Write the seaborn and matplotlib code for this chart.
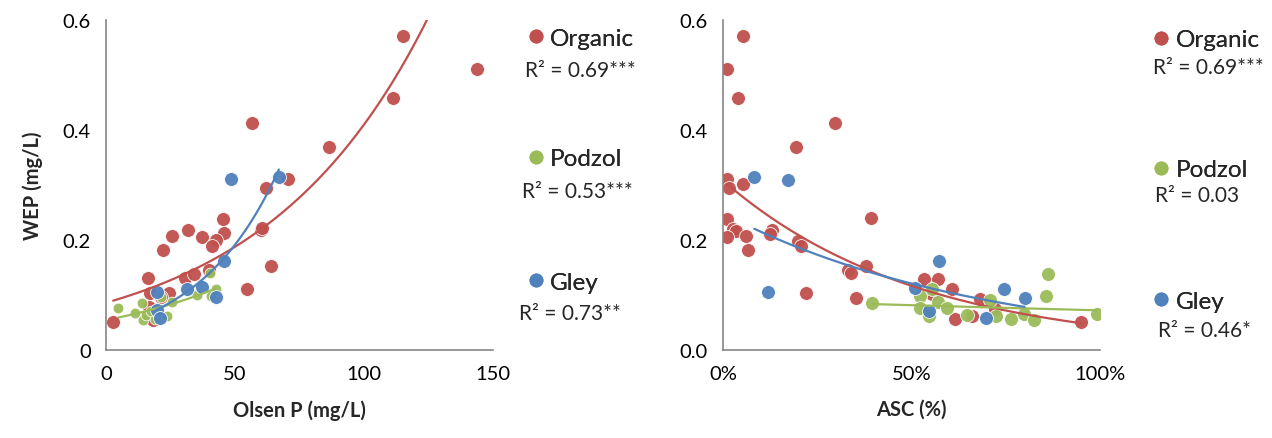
import numpy as np
import pandas as pd
import matplotlib
matplotlib.use("Agg")
import matplotlib.pyplot as plt
from matplotlib.lines import Line2D
from matplotlib.ticker import PercentFormatter, FormatStrFormatter
import seaborn as sns

# --- data ------------------------------------------------------------------
# left panel: WEP vs Olsen P
org_p = [2.8, 16.4, 22.2, 25.7, 31.8, 37.2, 45.5, 45.7, 42.8, 41.1, 59.9, 60.5, 61.9, 70.4,
         63.8, 54.8, 30.7, 34.1, 40.0, 17.1, 24.5, 21.4, 18.3, 16.8, 56.5, 86.4, 115.0, 111.1, 143.9]
org_wep = [0.050, 0.130, 0.182, 0.208, 0.218, 0.205, 0.238, 0.213, 0.200, 0.189, 0.219, 0.222, 0.295, 0.310,
           0.152, 0.110, 0.131, 0.139, 0.145, 0.103, 0.103, 0.097, 0.055, 0.078, 0.412, 0.369, 0.570, 0.458, 0.511]
pod_p = [4.8, 11.1, 14.0, 14.5, 15.7, 21.3, 23.5, 25.4, 35.1, 40.3, 42.6, 40.7, 19.0, 17.5]
pod_wep = [0.076, 0.067, 0.085, 0.055, 0.064, 0.097, 0.062, 0.088, 0.100, 0.140, 0.111, 0.099, 0.056, 0.070]
gley_p = [48.3, 67.0, 45.7, 19.6, 31.5, 37.3, 42.6, 19.9, 21.1]
gley_wep = [0.310, 0.315, 0.161, 0.106, 0.110, 0.114, 0.096, 0.072, 0.058]

# right panel: WEP vs ASC (%)
org_asc = [5.4, 1.0, 4.1, 29.7, 19.4, 1.0, 1.6, 5.4, 1.0, 2.7, 3.4, 1.0, 6.1, 6.7, 12.9, 12.5, 20.0,
           20.6, 39.3, 37.9, 33.2, 33.9, 22.0, 35.3, 53.4, 57.1, 60.7, 68.2, 72.1, 61.5, 66.0, 95.0, 55.4]
org_wep_r = [0.570, 0.511, 0.458, 0.412, 0.369, 0.310, 0.295, 0.302, 0.238, 0.220, 0.216, 0.205, 0.208,
             0.182, 0.219, 0.211, 0.199, 0.189, 0.240, 0.153, 0.146, 0.140, 0.104, 0.095, 0.129, 0.129,
             0.111, 0.093, 0.075, 0.056, 0.061, 0.050, 0.102]
pod_asc = [39.6, 86.1, 85.6, 99.1, 52.3, 55.4, 52.3, 57.1, 59.3, 64.8, 70.8, 72.4, 76.3, 79.8, 82.5, 54.6]
pod_wep_r = [0.085, 0.139, 0.098, 0.065, 0.099, 0.111, 0.077, 0.087, 0.076, 0.064, 0.090, 0.061,
             0.056, 0.065, 0.055, 0.062]
gley_asc = [8.3, 17.3, 12.0, 57.4, 50.9, 74.4, 80.0, 54.6, 69.7]
gley_wep_r = [0.314, 0.309, 0.105, 0.161, 0.113, 0.110, 0.095, 0.070, 0.058]

soils = ["Organic", "Podzol", "Gley"]
r2_left = ["R² = 0.69***", "R² = 0.53***", "R² = 0.73**"]
r2_right = ["R² = 0.69***", "R² = 0.03", "R² = 0.46*"]

colors = {"Organic": "#C0504D", "Podzol": "#9BBB59", "Gley": "#4F81BD"}
sizes_left = {"Organic": 100, "Podzol": 60, "Gley": 100}
sizes_right = {"Organic": 100, "Podzol": 100, "Gley": 100}

left = pd.concat([
    pd.DataFrame({"x": org_p, "wep": org_wep, "soil": "Organic"}),
    pd.DataFrame({"x": pod_p, "wep": pod_wep, "soil": "Podzol"}),
    pd.DataFrame({"x": gley_p, "wep": gley_wep, "soil": "Gley"}),
])
right = pd.concat([
    pd.DataFrame({"x": org_asc, "wep": org_wep_r, "soil": "Organic"}),
    pd.DataFrame({"x": pod_asc, "wep": pod_wep_r, "soil": "Podzol"}),
    pd.DataFrame({"x": gley_asc, "wep": gley_wep_r, "soil": "Gley"}),
])


def exp_trend(df):
    """Excel-style exponential trendline: fit ln(y) linearly."""
    b, ln_a = np.polyfit(df["x"], np.log(df["wep"]), 1)
    xs = np.linspace(df["x"].min(), df["x"].max(), 200)
    return pd.DataFrame({"x": xs, "wep": np.exp(ln_a) * np.exp(b * xs)})


sns.set_theme(style="white")
plt.rcParams["font.family"] = ["Lato", "DejaVu Sans"]

fig = plt.figure(figsize=(12.72, 4.39), dpi=100)
ax1 = fig.add_axes([0.0833, 0.2005, 0.3043, 0.7517])
ax2 = fig.add_axes([0.5684, 0.2005, 0.2964, 0.7517])

for ax, df, sizes in [(ax1, left, sizes_left), (ax2, right, sizes_right)]:
    for soil in soils:
        sub = df[df["soil"] == soil]
        sns.scatterplot(data=sub, x="x", y="wep", ax=ax, color=colors[soil], s=sizes[soil],
                        edgecolor="white", linewidth=0.6, alpha=0.95, zorder=2, legend=False)
    for soil in soils:
        sub = df[df["soil"] == soil]
        sns.lineplot(data=exp_trend(sub), x="x", y="wep", ax=ax, color=colors[soil], lw=1.6,
                     zorder=3, legend=False)

grey = "#868686"
for ax in (ax1, ax2):
    ax.set_ylim(0, 0.6)
    ax.set_yticks([0, 0.2, 0.4, 0.6])
    for side in ("top", "right"):
        ax.spines[side].set_visible(False)
    for side in ("left", "bottom"):
        ax.spines[side].set_color(grey)
        ax.spines[side].set_linewidth(1.2)
    ax.tick_params(axis="both", direction="out", length=5, width=1.2, color=grey,
                   labelsize=14.5, labelcolor="black", pad=6)
    ax.grid(False)

ax1.set_xlim(0, 150)
ax1.set_xticks([0, 50, 100, 150])
ax1.set_yticklabels(["0", "0.2", "0.4", "0.6"])
ax1.set_xlabel("Olsen P (mg/L)", fontsize=14.5, fontweight="bold", labelpad=12)
ax1.set_ylabel("WEP (mg/L)", fontsize=14.5, fontweight="bold", labelpad=14)

ax2.set_xlim(0, 100)
ax2.set_xticks([0, 50, 100])
ax2.xaxis.set_major_formatter(PercentFormatter(xmax=100, decimals=0))
ax2.yaxis.set_major_formatter(FormatStrFormatter("%.1f"))
ax2.set_xlabel("ASC (%)", fontsize=14.5, fontweight="bold", labelpad=12)
ax2.set_ylabel("")

# legend blocks: dot + soil name, R² beneath (left-aligned, slightly staggered)
blocks = [
    (0.4115, [0.911, 0.636, 0.355], [0.4127, 0.4104, 0.4080], [0.838, 0.563, 0.284], r2_left),
    (0.9035, [0.907, 0.611, 0.312], [0.9064, 0.9080, 0.9104], [0.845, 0.554, 0.246], r2_right),
]
for x_leg, y_names, x_r2s, y_r2s, r2s in blocks:
    for soil, y_name, x_r2, y_r2, r2 in zip(soils, y_names, x_r2s, y_r2s, r2s):
        handle = Line2D([], [], marker="o", ls="", color=colors[soil], markersize=9)
        leg = fig.legend([handle], [soil], loc="center left", bbox_to_anchor=(x_leg, y_name),
                         frameon=False, fontsize=17.5, handletextpad=0.1, handlelength=1.0,
                         borderpad=0, borderaxespad=0)
        fig.add_artist(leg)
        fig.text(x_r2, y_r2, r2, fontsize=15, ha="left", va="center")

fig.savefig("out.png", dpi=100)
